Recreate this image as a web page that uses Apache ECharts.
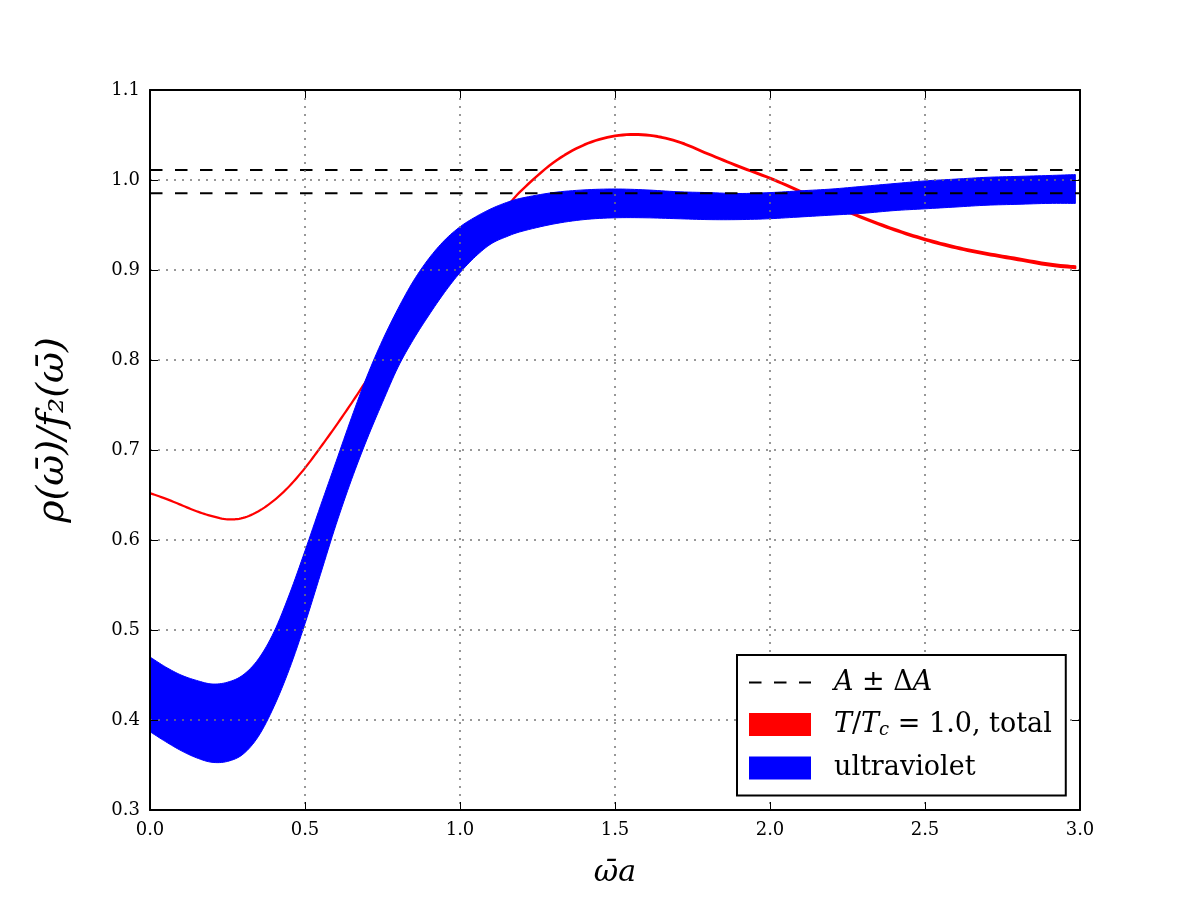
<!DOCTYPE html>
<html>
<head>
<meta charset="utf-8">
<script src="https://cdn.jsdelivr.net/npm/echarts@6/dist/echarts.min.js"></script>
<style>
  html, body { margin: 0; padding: 0; background: #fff; }
  #chart { width: 1200px; height: 900px; }
</style>
</head>
<body>
<div id="chart"></div>
<script>
// x positions (omega-bar * a)
const xs = [0, 0.05, 0.1, 0.15, 0.2, 0.25, 0.3, 0.35, 0.4, 0.45, 0.5, 0.55, 0.6, 0.65, 0.7,
  0.75, 0.8, 0.85, 0.9, 0.95, 1.0, 1.05, 1.1, 1.15, 1.2, 1.3, 1.4, 1.5, 1.6, 1.7, 1.8,
  1.9, 2.0, 2.1, 2.2, 2.3, 2.4, 2.5, 2.6, 2.7, 2.8, 2.9, 2.985];

// ultraviolet band, lower and upper edge
const blueLow = [0.387, 0.376, 0.366, 0.358, 0.353, 0.354, 0.362, 0.382, 0.415, 0.457, 0.507,
  0.562, 0.617, 0.667, 0.712, 0.753, 0.792, 0.823, 0.850, 0.875, 0.897, 0.915, 0.929, 0.937,
  0.943, 0.951, 0.956, 0.958, 0.958, 0.957, 0.956, 0.956, 0.957, 0.959, 0.961, 0.963, 0.966,
  0.968, 0.970, 0.972, 0.973, 0.974, 0.974];
const blueHigh = [0.470, 0.459, 0.450, 0.444, 0.440, 0.442, 0.450, 0.468, 0.498, 0.540, 0.588,
  0.638, 0.687, 0.736, 0.782, 0.822, 0.857, 0.888, 0.913, 0.933, 0.948, 0.959, 0.968, 0.975,
  0.980, 0.986, 0.989, 0.990, 0.989, 0.987, 0.986, 0.985, 0.986, 0.988, 0.990, 0.993, 0.996,
  0.999, 1.001, 1.003, 1.004, 1.005, 1.006];

// total (T/Tc = 1.0), centre and thickness of the thin band
const redMid = [0.652, 0.646, 0.639, 0.632, 0.6265, 0.623, 0.6245, 0.632, 0.644, 0.660, 0.680,
  0.703, 0.727, 0.752, 0.778, 0.803, 0.828, 0.851, 0.873, 0.895, 0.915, 0.934, 0.952, 0.970,
  0.989, 1.019, 1.039, 1.049, 1.050, 1.043, 1.029, 1.015, 1.002, 0.987, 0.972, 0.958, 0.945,
  0.934, 0.925, 0.918, 0.912, 0.906, 0.903];
const redWidth = [0.0003, 0.0003, 0.0003, 0.0003, 0.0003, 0.0003, 0.0003, 0.0003, 0.0003, 0.0003,
  0.0003, 0.0005, 0.0005, 0.0005, 0.0005, 0.0005, 0.0005, 0.0005, 0.0005, 0.0005, 0.0005, 0.0005,
  0.0005, 0.0005, 0.0006, 0.0008, 0.0008, 0.001, 0.001, 0.001, 0.001, 0.0012, 0.0012, 0.0014,
  0.0015, 0.0016, 0.0017, 0.0018, 0.0019, 0.002, 0.0021, 0.0022, 0.0022];

// A +- dA levels
const dashLevels = [1.0111, 0.9852];

const xTicks = { min: 0, max: 3, interval: 0.5 };
const yTicks = { min: 0.3, max: 1.1, interval: 0.1 };

const serif = "'DejaVu Serif', 'Liberation Serif', serif";

const redLo = redMid.map((v, i) => v - redWidth[i] / 2);
const redHi = redMid.map((v, i) => v + redWidth[i] / 2);

// catmull-rom through pixel points, so the band edges come out smooth
function spline(pts, steps) {
  const out = [pts[0]];
  const n = pts.length;
  for (let i = 0; i < n - 1; i++) {
    const p0 = pts[Math.max(i - 1, 0)], p1 = pts[i], p2 = pts[i + 1], p3 = pts[Math.min(i + 2, n - 1)];
    for (let s = 1; s <= steps; s++) {
      const t = s / steps, t2 = t * t, t3 = t2 * t;
      const q = [0, 1].map(k => 0.5 * (2 * p1[k] + (p2[k] - p0[k]) * t +
        (2 * p0[k] - 5 * p1[k] + 4 * p2[k] - p3[k]) * t2 +
        (3 * p1[k] - p0[k] - 3 * p2[k] + p3[k]) * t3));
      out.push(q);
    }
  }
  return out;
}

function bandSeries(name, color, lo, hi, edge, z) {
  return {
    name: name, type: 'custom', clip: true, silent: true, z: z,
    data: xs.map((x, i) => [x, lo[i], hi[i]]),
    encode: { x: 0, y: [1, 2] },
    itemStyle: { color: color },
    renderItem: function (params, api) {
      if (params.dataIndex !== 0) return null;
      const top = spline(xs.map((x, i) => api.coord([x, hi[i]])), 8);
      const bot = spline(xs.map((x, i) => api.coord([x, lo[i]])), 8);
      return {
        type: 'polygon',
        shape: { points: top.concat(bot.reverse()) },
        style: { fill: color, stroke: color, lineWidth: edge, lineJoin: 'round' }
      };
    }
  };
}

const redName = 'total';
const blueName = 'ultraviolet';
const dashName = 'A';

const series = [
  bandSeries(redName, '#ff0000', redLo, redHi, 2, 2),
  bandSeries(blueName, '#0000ff', blueLow, blueHigh, 1, 3)
].concat(
  dashLevels.map(lv => ({
    name: dashName, type: 'line', symbol: 'none', silent: true,
    data: [[xTicks.min, lv], [xTicks.max, lv]],
    itemStyle: { color: '#000' },
    lineStyle: { color: '#000', width: 2, type: [12.5, 12.5] }, z: 4
  }))
);

const gridLine = { show: true, lineStyle: { color: '#777', width: 1.5, type: [2, 6] } };
const frameLine = { show: true, onZero: false, lineStyle: { color: '#000', width: 2 } };
const tick = { show: true, inside: true, length: 8, lineStyle: { color: '#000', width: 1 } };

const option = {
  animation: false,
  backgroundColor: '#fff',
  grid: { left: 150, right: 120, top: 90, bottom: 90 },
  xAxis: [
    {
      type: 'value', min: xTicks.min, max: xTicks.max, interval: xTicks.interval,
      position: 'bottom', z: 5,
      axisLine: frameLine, axisTick: tick, splitLine: gridLine,
      axisLabel: { color: '#000', fontFamily: serif, fontSize: 18, margin: 11,
        formatter: v => v.toFixed(1) },
      name: 'ω\u0304a', nameLocation: 'middle', nameGap: 48,
      nameTextStyle: { color: '#000', fontFamily: serif, fontStyle: 'italic', fontSize: 30 }
    },
    {
      type: 'value', min: xTicks.min, max: xTicks.max, interval: xTicks.interval,
      position: 'top', z: 5,
      axisLine: frameLine, axisTick: tick, splitLine: { show: false },
      axisLabel: { show: false }
    }
  ],
  yAxis: [
    {
      type: 'value', min: yTicks.min, max: yTicks.max, interval: yTicks.interval,
      position: 'left', z: 5,
      axisLine: frameLine, axisTick: tick, splitLine: gridLine,
      axisLabel: { color: '#000', fontFamily: serif, fontSize: 18, margin: 10,
        formatter: v => v.toFixed(1) },
      name: 'ρ(ω\u0304)/f\u2082(ω\u0304)', nameLocation: 'middle', nameGap: 78, nameRotate: 90,
      nameTextStyle: { color: '#000', fontFamily: serif, fontStyle: 'italic', fontSize: 38,
        padding: [0, 0, 0, 40] }
    },
    {
      type: 'value', min: yTicks.min, max: yTicks.max, interval: yTicks.interval,
      position: 'right', z: 5,
      axisLine: frameLine, axisTick: tick, splitLine: { show: false },
      axisLabel: { show: false }
    }
  ],
  legend: {
    left: 737, top: 655, orient: 'vertical',
    selectedMode: false,
    itemWidth: 62, itemHeight: 23, itemGap: 15,
    padding: [14, 14, 14, 11],
    borderColor: '#000', borderWidth: 2, backgroundColor: '#fff',
    z: 10,
    data: [
      { name: dashName, itemStyle: { opacity: 0 } },
      { name: redName, icon: 'rect', itemStyle: { color: '#ff0000' } },
      { name: blueName, icon: 'rect', itemStyle: { color: '#0000ff' } }
    ],
    formatter: function (name) {
      if (name === dashName) return '{i|A} ± Δ{i|A}';
      if (name === redName) return '{i|T}/{i|T}{s|c} = 1.0, total';
      return 'ultraviolet';
    },
    textStyle: {
      color: '#000', fontFamily: serif, fontSize: 27, padding: [0, 0, 0, 18],
      rich: {
        i: { fontFamily: serif, fontStyle: 'italic', fontSize: 27, color: '#000' },
        s: { fontFamily: serif, fontStyle: 'italic', fontSize: 18, color: '#000', padding: [12, 0, 0, 0] }
      }
    }
  },
  series: series
};

const chart = echarts.init(document.getElementById('chart'), null, { renderer: 'canvas' });
chart.setOption(option);
</script>
</body>
</html>
